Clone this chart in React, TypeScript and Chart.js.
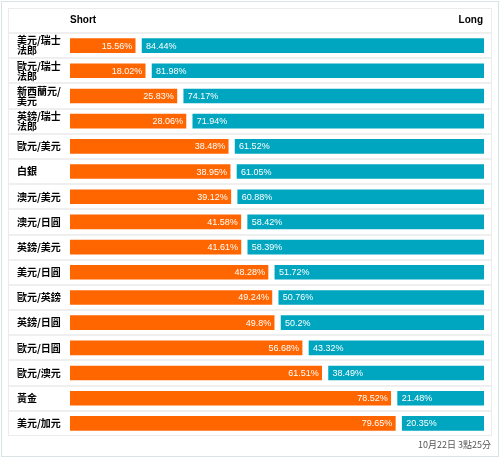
import React, { useEffect, useRef } from "react";
import { Chart, registerables } from "chart.js";

Chart.register(...registerables);

const categories: (string | string[])[] = [
  ["美元/瑞士", "法郎"],
  ["歐元/瑞士", "法郎"],
  ["新西蘭元/", "美元"],
  ["英鎊/瑞士", "法郎"],
  "歐元/美元",
  "白銀",
  "澳元/美元",
  "澳元/日圓",
  "英鎊/美元",
  "美元/日圓",
  "歐元/英鎊",
  "英鎊/日圓",
  "歐元/日圓",
  "歐元/澳元",
  "黃金",
  "美元/加元",
];
const shortValues = [15.56, 18.02, 25.83, 28.06, 38.48, 38.95, 39.12, 41.58, 41.61, 48.28, 49.24, 49.8, 56.68, 61.51, 78.52, 79.65];
const longValues = [84.44, 81.98, 74.17, 71.94, 61.52, 61.05, 60.88, 58.42, 58.39, 51.72, 50.76, 50.2, 43.32, 38.49, 21.48, 20.35];
const shortLabel = "Short";
const longLabel = "Long";
const timestamp = "10月22日 3點25分";

const X_MIN = -0.5;
const GAP = 1.7;
const X_MAX = 101.5;

const fmt = (v: number) => `${v}%`;

export default function App() {
  const ref = useRef<HTMLCanvasElement>(null);
  useEffect(() => {
    if (!ref.current) return;
    const decor = {
      id: "decor",
      beforeDraw(chart: any) {
        const { ctx, chartArea } = chart;
        ctx.save();
        ctx.fillStyle = "#ffffff";
        ctx.fillRect(0, 0, chart.width, chart.height);
        ctx.strokeStyle = "#d8e3e5";
        ctx.lineWidth = 1;
        ctx.strokeRect(1.5, 1.5, 497, 455);
        ctx.strokeStyle = "#ececec";
        ctx.strokeRect(8.5, 8.5, 483, 427);
        const n = categories.length;
        const band = (chartArea.bottom - chartArea.top) / n;
        ctx.strokeStyle = "#efefef";
        ctx.lineWidth = 2;
        for (let k = 0; k < n; k++) {
          const y = Math.round(chartArea.top + k * band);
          ctx.beginPath();
          ctx.moveTo(9, y);
          ctx.lineTo(491, y);
          ctx.stroke();
        }
        ctx.fillStyle = "#000";
        ctx.font = "bold 10px Arial, 'Liberation Sans', sans-serif";
        ctx.textBaseline = "middle";
        ctx.textAlign = "left";
        ctx.fillText(shortLabel, chartArea.left, 20);
        ctx.textAlign = "right";
        ctx.fillText(longLabel, chartArea.right - 1, 20);
        ctx.fillStyle = "#555";
        ctx.font = "9px 'Noto Sans CJK TC', sans-serif";
        ctx.fillText(timestamp, 491, 444.5);
        ctx.restore();
      },
      afterDatasetsDraw(chart: any) {
        const { ctx } = chart;
        ctx.save();
        ctx.fillStyle = "#ffffff";
        ctx.font = "9px Arial, 'Liberation Sans', sans-serif";
        ctx.textBaseline = "middle";
        chart.getDatasetMeta(0).data.forEach((bar: any, i: number) => {
          ctx.textAlign = "right";
          ctx.fillText(fmt(shortValues[i]), bar.x - 3, bar.y + 0.5);
        });
        chart.getDatasetMeta(1).data.forEach((bar: any, i: number) => {
          ctx.textAlign = "left";
          ctx.fillText(fmt(longValues[i]), bar.base + 4, bar.y + 0.5);
        });
        ctx.restore();
      },
    };
    const chart = new Chart(ref.current, {
      type: "bar",
      data: {
        labels: categories,
        datasets: [
          {
            label: shortLabel,
            data: shortValues.map((s) => [X_MIN, s]),
            backgroundColor: "#ff6600",
            borderWidth: 0,
            barThickness: 14,
            grouped: false,
          } as any,
          {
            label: longLabel,
            data: shortValues.map((s) => [s + GAP, X_MAX]),
            backgroundColor: "#00a6bf",
            borderWidth: 0,
            barThickness: 14,
            grouped: false,
          } as any,
        ],
      },
      options: {
        indexAxis: "y",
        animation: false,
        responsive: true,
        maintainAspectRatio: false,
        layout: { padding: { left: 17, right: 16, top: 33, bottom: 22 } },
        plugins: { legend: { display: false }, tooltip: { enabled: false } },
        scales: {
          x: { display: false, min: X_MIN, max: X_MAX },
          y: {
            grid: { display: false },
            border: { display: false },
            afterFit: (scale: any) => {
              scale.width = 53;
            },
            ticks: {
              crossAlign: "far",
              color: "#000",
              padding: 0,
              font: { family: "'Noto Sans CJK TC', sans-serif", size: 10, weight: "bold", lineHeight: 1.0 },
            },
          },
        },
      } as any,
      plugins: [decor],
    });
    return () => chart.destroy();
  }, []);
  return (
    <div style={{ position: "absolute", left: 0, top: 0, width: 500, height: 458 }}>
      <canvas ref={ref} />
    </div>
  );
}
